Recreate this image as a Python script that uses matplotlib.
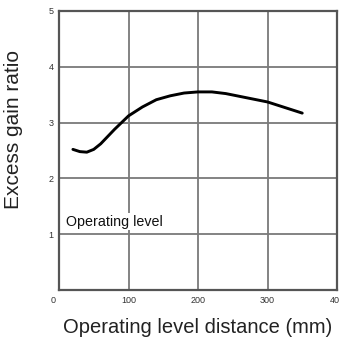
import matplotlib
matplotlib.use("Agg")
import matplotlib.pyplot as plt

# Excess gain vs. operating distance
distance_mm = [20, 30, 40, 50, 60, 70, 80, 90, 100, 120, 140, 160, 180, 200,
               220, 240, 260, 280, 300, 320, 340, 350]
gain_ratio = [2.52, 2.48, 2.47, 2.52, 2.62, 2.75, 2.88, 3.0, 3.12, 3.28, 3.41,
              3.48, 3.53, 3.55, 3.55, 3.52, 3.47, 3.42, 3.37, 3.29, 3.21, 3.17]
x_ticks = [0, 100, 200, 300, 400]
x_labels = ["", "100", "200", "300", "400"]
y_ticks = [1, 2, 3, 4, 5]
y_labels = ["1", "2", "3", "4", "5"]

plt.rcParams["font.family"] = ["Liberation Sans", "DejaVu Sans"]

fig = plt.figure(figsize=(3.39, 3.43), dpi=100)
ax = fig.add_axes([59 / 339, 1 - 290 / 343, (337 - 59) / 339, (290 - 11) / 343])

ax.plot(distance_mm, gain_ratio, color="black", lw=2.1, solid_capstyle="round",
        solid_joinstyle="round", zorder=3)

ax.set_xlim(0, 400)
ax.set_ylim(0, 5)
ax.set_xticks(x_ticks)
ax.set_yticks(y_ticks)
ax.set_xticklabels(x_labels, fontsize=6.5, color="#333333")
ax.set_yticklabels(y_labels, fontsize=6.5, color="#333333")
ax.tick_params(length=0, pad=4)
ax.text(-8, -0.11, "0", fontsize=6.5, color="#333333", ha="center", va="top")

ax.grid(True, color="#7a7a7a", lw=1.3)
ax.set_axisbelow(True)
for s in ax.spines.values():
    s.set_color("#555555")
    s.set_linewidth(1.6)

ax.text(10, 1.22, "Operating level", fontsize=10.3, ha="left", va="center",
        color="#111111",
        bbox=dict(facecolor="white", edgecolor="none", pad=1.0), zorder=2)

ax.set_xlabel("Operating level distance (mm)", fontsize=14.5, color="#222222",
              labelpad=10)
ax.set_ylabel("Excess gain ratio", fontsize=15, color="#222222")
ax.yaxis.set_label_coords(-0.13, 0.577)

fig.savefig("out.png", dpi=100, facecolor="white")
